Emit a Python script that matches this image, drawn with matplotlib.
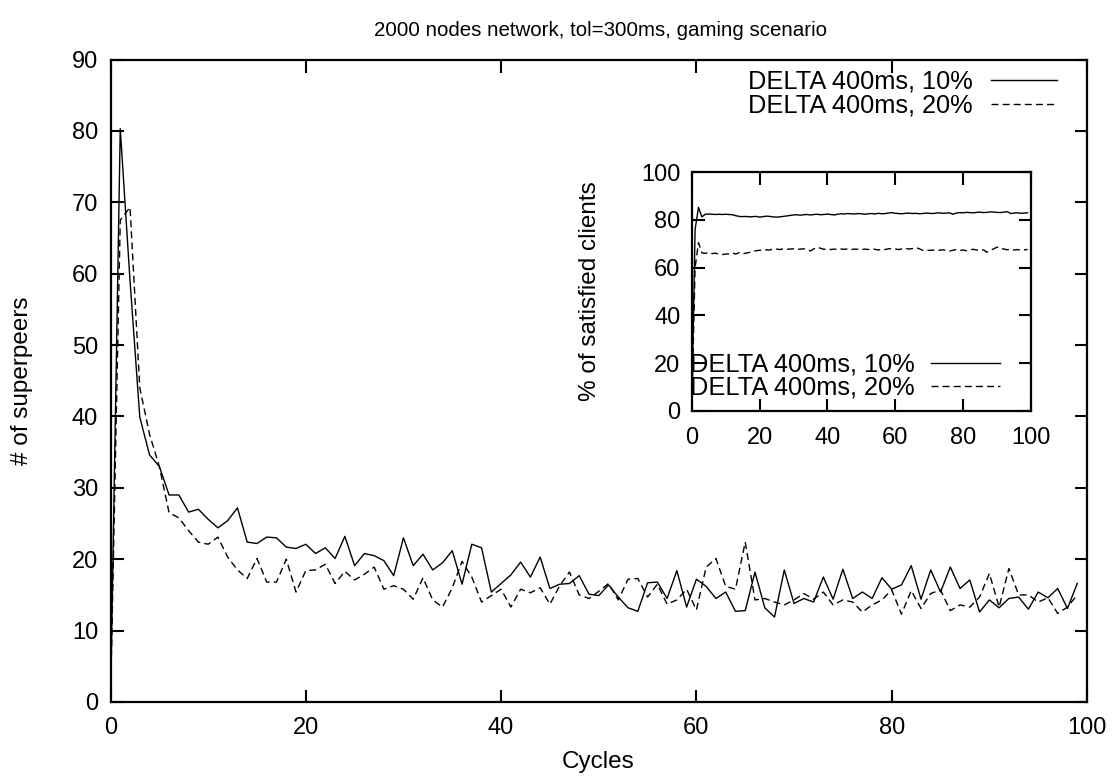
import numpy as np
import matplotlib
matplotlib.use("Agg")
import matplotlib.pyplot as plt

plt.rcParams['font.family'] = ['Liberation Sans', 'DejaVu Sans']

title = "2000 nodes network, tol=300ms, gaming scenario"
labels = ["DELTA 400ms, 10%", "DELTA 400ms, 20%"]

sp_10 = [0, 80.3, 59.0, 39.9, 34.6, 33.0, 29.0, 29.0, 26.6, 27.0,
         25.6, 24.4, 25.4, 27.2, 22.4, 22.2, 23.1, 23.0, 21.7, 21.5,
         22.1, 20.8, 21.6, 20.1, 23.2, 19.1, 20.8, 20.5, 19.8, 17.7,
         23.0, 19.1, 20.7, 18.5, 19.5, 21.2, 16.5, 22.1, 21.6, 15.4,
         16.6, 17.8, 19.6, 17.5, 20.3, 15.9, 16.5, 16.6, 17.7, 15.1,
         14.9, 16.4, 14.7, 13.2, 12.7, 16.7, 16.8, 14.5, 18.4, 13.3,
         17.2, 16.2, 14.5, 15.4, 12.7, 12.8, 18.2, 13.2, 11.9, 18.5,
         13.8, 14.5, 14.0, 17.5, 14.4, 18.6, 14.5, 15.4, 14.5, 17.4,
         15.8, 16.4, 19.1, 14.4, 18.5, 15.4, 18.9, 15.9, 17.1, 12.6,
         14.3, 13.2, 14.5, 14.7, 13.0, 15.4, 14.6, 15.9, 13.1, 16.6]

sp_20 = [0, 67.5, 69.3, 44.0, 37.5, 33.0, 26.5, 25.8, 24.0, 22.4,
         22.1, 23.1, 20.3, 18.5, 17.3, 20.1, 16.8, 16.8, 20.0, 15.4,
         18.4, 18.5, 19.3, 16.6, 18.3, 17.1, 17.9, 18.9, 15.8, 16.3,
         15.8, 14.4, 17.4, 14.3, 13.3, 16.0, 19.7, 17.5, 14.0, 14.9,
         15.8, 13.3, 15.8, 15.3, 16.0, 13.7, 16.3, 18.2, 15.0, 14.5,
         15.5, 16.6, 14.3, 17.2, 17.3, 14.7, 16.5, 13.7, 14.3, 15.8,
         12.9, 18.9, 20.1, 16.2, 15.8, 22.4, 14.3, 14.5, 14.0, 13.6,
         14.3, 15.2, 14.4, 15.4, 13.6, 14.3, 14.0, 12.6, 13.6, 14.3,
         15.7, 12.3, 15.6, 13.1, 15.2, 15.7, 12.8, 13.6, 13.3, 14.7,
         18.0, 13.3, 18.7, 15.0, 15.0, 14.0, 14.6, 12.4, 13.3, 15.0]

sat_10 = [0, 76, 85.3, 81.3, 82.4, 82.5, 82.4, 82.3, 82.4, 82.3,
          82.4, 82.3, 82.2, 81.8, 81.5, 81.4, 81.5, 81.3, 81.4, 81.5,
          81.2, 81.4, 81.6, 81.5, 81.3, 81.2, 81.3, 81.5, 81.7, 81.9,
          82.1, 82.2, 82.0, 82.2, 82.3, 82.1, 82.3, 82.4, 82.2, 82.3,
          82.5, 82.3, 82.1, 82.4, 82.6, 82.5, 82.7, 82.6, 82.5, 82.7,
          82.6, 82.4, 82.6, 82.7, 82.5, 82.8, 82.6, 82.7, 82.9, 83.1,
          82.8, 82.7, 82.6, 82.8, 82.9, 82.7, 82.8, 82.6, 82.7, 82.9,
          82.8, 82.7, 82.9, 83.0, 82.8, 82.9, 83.0, 82.4, 82.9, 83.1,
          83.0, 83.2, 83.1, 83.0, 83.2, 83.3, 83.1, 83.2, 83.4, 83.3,
          83.2, 83.1, 83.3, 83.5, 82.7, 82.9, 83.0, 82.8, 82.9, 83.0]

sat_20 = [0, 60, 70.5, 66.2, 66.0, 66.4, 65.9, 66.1, 65.6, 65.5,
          65.7, 65.8, 66.2, 65.7, 66.3, 65.8, 66.1, 66.4, 66.8, 67.1,
          67.3, 67.2, 67.5, 67.4, 67.9, 67.8, 67.6, 67.9, 67.7, 67.8,
          67.9, 67.6, 67.8, 67.9, 67.7, 67.0, 67.9, 68.6, 68.1, 67.7,
          67.9, 67.6, 67.8, 67.5, 67.8, 67.7, 67.9, 67.6, 67.8, 67.7,
          67.5, 67.8, 67.6, 67.9, 67.7, 67.4, 67.8, 67.6, 67.9, 68.0,
          67.8, 67.6, 67.9, 68.1, 67.8, 68.0, 68.4, 68.0, 67.3, 67.6,
          67.2, 67.4, 67.1, 67.3, 67.5, 67.2, 67.0, 67.3, 67.6, 67.2,
          67.4, 67.1, 67.5, 67.7, 67.4, 67.2, 67.5, 66.5, 67.3, 67.9,
          68.6, 68.2, 67.8, 67.5, 67.7, 67.4, 67.6, 67.3, 67.5, 67.6]

W, H = 1116, 781
fig = plt.figure(figsize=(W / 100, H / 100), dpi=100)

def frac(l, t, r, b):
    return [l / W, 1 - b / H, (r - l) / W, (b - t) / H]

def fx(px):
    return px / W

def fy(py):
    return 1 - py / H

TICK_FS = 17
LAB_FS = 17.5
LEG_FS = 18.3
TITLE_FS = 14.8
DASH = (5, 3)

ax = fig.add_axes(frac(110.5, 59.5, 1087, 702))
ax.plot(np.arange(len(sp_10)), sp_10, color='black', lw=1.0, label=labels[0])
ax.plot(np.arange(len(sp_20)), sp_20, color='black', lw=1.0, dashes=DASH, label=labels[1])
ax.set_xlim(0, 100)
ax.set_ylim(0, 90)
ax.set_xticks(np.arange(0, 101, 20))
ax.set_yticks(np.arange(0, 91, 10))
ax.tick_params(direction='in', length=9, width=1.5, top=True, right=True, labelsize=TICK_FS)
ax.tick_params(axis='y', pad=9)
ax.tick_params(axis='x', pad=11)
for s in ax.spines.values():
    s.set_linewidth(1.6)
fig.text(fx(598), fy(762), "Cycles", fontsize=LAB_FS, ha='center', va='center')
fig.text(fx(22), fy(381), "# of superpeers", fontsize=LAB_FS, ha='center', va='center', rotation=90)
fig.text(fx(600), fy(30), title, fontsize=TITLE_FS, ha='center', va='center')
ax.legend(loc='upper right', bbox_to_anchor=(fx(1057), fy(70)), bbox_transform=fig.transFigure,
          frameon=False, markerfirst=False, fontsize=LEG_FS, handlelength=2.6, handletextpad=0.7,
          labelspacing=-0.02, borderpad=0, borderaxespad=0)

ins = fig.add_axes(frac(691.7, 172.3, 1031, 410.7))
ins.plot(np.arange(len(sat_10)), sat_10, color='black', lw=1.0, label=labels[0])
ins.plot(np.arange(len(sat_20)), sat_20, color='black', lw=1.0, dashes=DASH, label=labels[1])
ins.set_xlim(0, 100)
ins.set_ylim(0, 100)
ins.set_xticks(np.arange(0, 101, 20))
ins.set_yticks(np.arange(0, 101, 20))
ins.tick_params(direction='in', length=9, width=1.5, top=True, right=True, labelsize=TICK_FS)
ins.tick_params(axis='y', pad=8)
ins.tick_params(axis='x', pad=12)
for s in ins.spines.values():
    s.set_linewidth(1.6)
fig.text(fx(590), fy(291), "% of satisfied clients", fontsize=LAB_FS, ha='center', va='center', rotation=90)
ins.legend(loc='lower right', bbox_to_anchor=(fx(1000), fy(400)), bbox_transform=fig.transFigure,
           frameon=False, markerfirst=False, fontsize=LEG_FS, handlelength=2.7, handletextpad=0.65,
           labelspacing=-0.02, borderpad=0, borderaxespad=0)

fig.savefig("out.png", dpi=100)
